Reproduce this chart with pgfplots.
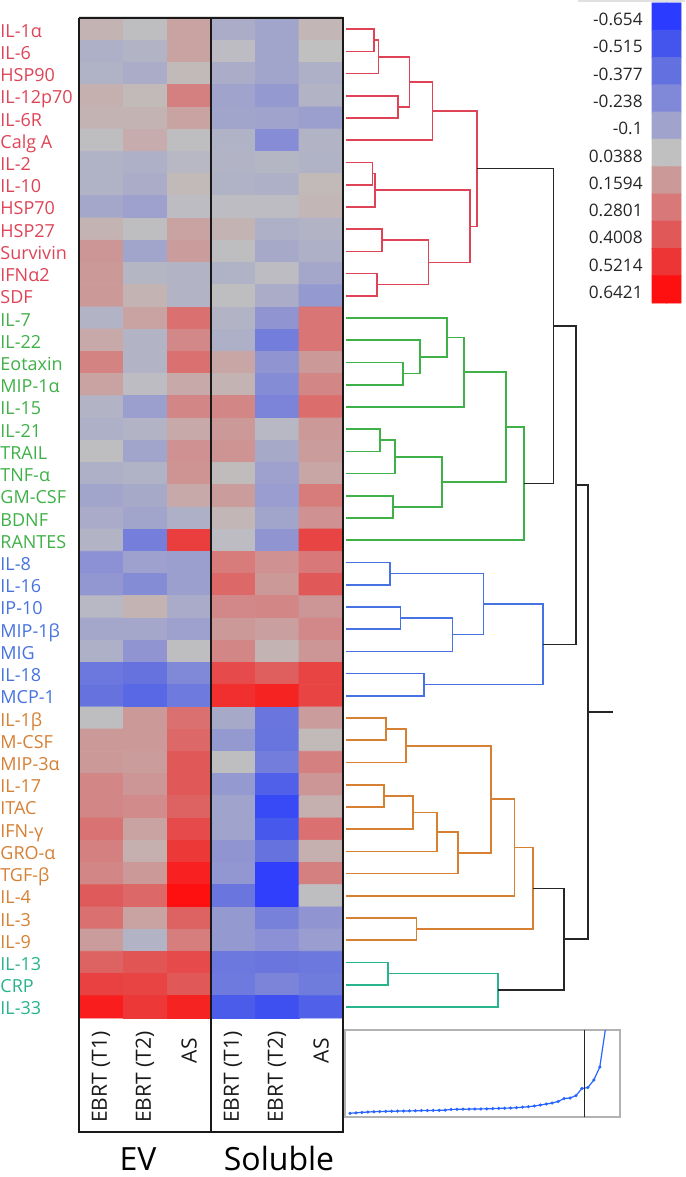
\documentclass[border=0pt]{standalone}
\usepackage{fontspec}
\setmainfont{Open Sans}
\usepackage{pgfplots}
\pgfplotsset{compat=1.18}
\definecolor{cR}{RGB}{222,68,86}
\definecolor{cG}{RGB}{64,176,72}
\definecolor{cB}{RGB}{70,115,225}
\definecolor{cO}{RGB}{214,128,52}
\definecolor{cT}{RGB}{40,180,140}
\definecolor{cInset}{RGB}{40,100,255}
\pgfplotsset{colormap={hm}{rgb255(0pt)=(43,59,255); rgb255(139pt)=(68,85,238); rgb255(277pt)=(98,112,224); rgb255(416pt)=(128,136,216); rgb255(554pt)=(160,163,204); rgb255(693pt)=(192,192,192); rgb255(813pt)=(204,153,153); rgb255(934pt)=(216,120,120); rgb255(1055pt)=(224,88,88); rgb255(1175pt)=(238,53,53); rgb255(1296pt)=(255,16,16)}}
\newcommand\rowfont{\fontsize{9}{10}\selectfont}
\newcommand\colfont{\fontsize{10.5}{12}\selectfont}
\newcommand\cbfont{\fontsize{8.6}{10}\selectfont}
\newcommand{\dm}[6]{\addplot[#1, line width=0.8pt] coordinates {(#2,#3) (#6,#3) (#6,#5) (#4,#5)};}
\newcommand{\rl}[3]{\node[anchor=base west, inner sep=0pt, text=#1, font=\rowfont] at (axis cs:0,#2) {#3};}
\newcommand{\cl}[2]{\node[anchor=base east, inner sep=0pt, text=black!85, font=\cbfont] at (axis cs:643,#1) {#2};}
\newcommand{\xl}[3]{\node[rotate=90, anchor=east, inner sep=0pt, text=black!90, font=\colfont] at (axis cs:#1,#2) {#3};}
\begin{document}
\begin{tikzpicture}
\useasboundingbox (0,0) rectangle (342.5pt,-588.5pt);
\begin{axis}[name=frame, at={(0,0)}, anchor=north west, scale only axis,
  width=342.5pt, height=588.5pt, xmin=0, xmax=685, ymin=0, ymax=1177,
  y dir=reverse, hide axis, clip=false, colormap name=hm,
  point meta min=-0.654, point meta max=0.6421]
% heatmap
\addplot[matrix plot*, mesh/cols=6, point meta=explicit] table[x expr={101+44*\thisrow{c}}, y expr={29.111+22.222*\thisrow{r}}, meta=v, row sep=\\] {
c r v \\
0 0 0.08 \\ 1 0 0.03 \\ 2 0 0.13 \\ 3 0 -0.05 \\ 4 0 -0.09 \\ 5 0 0.07 \\
0 1 -0.04 \\ 1 1 -0.02 \\ 2 1 0.13 \\ 3 1 0.02 \\ 4 1 -0.09 \\ 5 1 0.04 \\
0 2 -0.03 \\ 1 2 -0.05 \\ 2 2 0.06 \\ 3 2 -0.05 \\ 4 2 -0.09 \\ 5 2 -0.04 \\
0 3 0.09 \\ 1 3 0.06 \\ 2 3 0.25 \\ 3 3 -0.10 \\ 4 3 -0.15 \\ 5 3 -0.02 \\
0 4 0.08 \\ 1 4 0.08 \\ 2 4 0.13 \\ 3 4 -0.09 \\ 4 4 -0.10 \\ 5 4 -0.12 \\
0 5 0.03 \\ 1 5 0.10 \\ 2 5 0.03 \\ 3 5 -0.03 \\ 4 5 -0.21 \\ 5 5 -0.02 \\
0 6 -0.03 \\ 1 6 -0.04 \\ 2 6 0.00 \\ 3 6 -0.02 \\ 4 6 -0.01 \\ 5 6 -0.03 \\
0 7 -0.03 \\ 1 7 -0.05 \\ 2 7 0.06 \\ 3 7 -0.03 \\ 4 7 -0.04 \\ 5 7 0.06 \\
0 8 -0.08 \\ 1 8 -0.11 \\ 2 8 0.02 \\ 3 8 0.02 \\ 4 8 0.02 \\ 5 8 0.07 \\
0 9 0.08 \\ 1 9 0.03 \\ 2 9 0.13 \\ 3 9 0.08 \\ 4 9 -0.04 \\ 5 9 -0.02 \\
0 10 0.17 \\ 1 10 -0.09 \\ 2 10 0.15 \\ 3 10 0.03 \\ 4 10 -0.07 \\ 5 10 -0.04 \\
0 11 0.16 \\ 1 11 -0.01 \\ 2 11 -0.02 \\ 3 11 -0.03 \\ 4 11 0.02 \\ 5 11 -0.08 \\
0 12 0.16 \\ 1 12 0.08 \\ 2 12 -0.02 \\ 3 12 0.03 \\ 4 12 -0.05 \\ 5 12 -0.15 \\
0 13 -0.02 \\ 1 13 0.13 \\ 2 13 0.31 \\ 3 13 -0.02 \\ 4 13 -0.17 \\ 5 13 0.29 \\
0 14 0.11 \\ 1 14 -0.02 \\ 2 14 0.22 \\ 3 14 -0.04 \\ 4 14 -0.30 \\ 5 14 0.29 \\
0 15 0.24 \\ 1 15 -0.02 \\ 2 15 0.31 \\ 3 15 0.12 \\ 4 15 -0.17 \\ 5 15 0.16 \\
0 16 0.13 \\ 1 16 0.02 \\ 2 16 0.11 \\ 3 16 0.08 \\ 4 16 -0.22 \\ 5 16 0.23 \\
0 17 -0.02 \\ 1 17 -0.12 \\ 2 17 0.23 \\ 3 17 0.23 \\ 4 17 -0.26 \\ 5 17 0.32 \\
0 18 -0.04 \\ 1 18 -0.02 \\ 2 18 0.11 \\ 3 18 0.16 \\ 4 18 0.00 \\ 5 18 0.16 \\
0 19 0.03 \\ 1 19 -0.09 \\ 2 19 0.19 \\ 3 19 0.18 \\ 4 19 -0.07 \\ 5 19 0.15 \\
0 20 -0.04 \\ 1 20 -0.03 \\ 2 20 0.18 \\ 3 20 0.05 \\ 4 20 -0.11 \\ 5 20 0.12 \\
0 21 -0.09 \\ 1 21 -0.07 \\ 2 21 0.11 \\ 3 21 0.15 \\ 4 21 -0.13 \\ 5 21 0.27 \\
0 22 -0.06 \\ 1 22 -0.09 \\ 2 22 -0.04 \\ 3 22 0.07 \\ 4 22 -0.09 \\ 5 22 0.19 \\
0 23 -0.02 \\ 1 23 -0.29 \\ 2 23 0.49 \\ 3 23 0.02 \\ 4 23 -0.17 \\ 5 23 0.47 \\
0 24 -0.19 \\ 1 24 -0.11 \\ 2 24 -0.12 \\ 3 24 0.27 \\ 4 24 0.19 \\ 5 24 0.28 \\
0 25 -0.16 \\ 1 25 -0.22 \\ 2 25 -0.12 \\ 3 25 0.34 \\ 4 25 0.16 \\ 5 25 0.40 \\
0 26 0.00 \\ 1 26 0.08 \\ 2 26 -0.06 \\ 3 26 0.22 \\ 4 26 0.23 \\ 5 26 0.17 \\
0 27 -0.08 \\ 1 27 -0.08 \\ 2 27 -0.11 \\ 3 27 0.16 \\ 4 27 0.14 \\ 5 27 0.22 \\
0 28 -0.04 \\ 1 28 -0.17 \\ 2 28 0.03 \\ 3 28 0.23 \\ 4 28 0.08 \\ 5 28 0.17 \\
0 29 -0.33 \\ 1 29 -0.36 \\ 2 29 -0.24 \\ 3 29 0.45 \\ 4 29 0.38 \\ 5 29 0.47 \\
0 30 -0.36 \\ 1 30 -0.42 \\ 2 30 -0.32 \\ 3 30 0.54 \\ 4 30 0.58 \\ 5 30 0.47 \\
0 31 0.03 \\ 1 31 0.16 \\ 2 31 0.31 \\ 3 31 -0.07 \\ 4 31 -0.34 \\ 5 31 0.15 \\
0 32 0.16 \\ 1 32 0.16 \\ 2 32 0.34 \\ 3 32 -0.15 \\ 4 32 -0.35 \\ 5 32 0.06 \\
0 33 0.16 \\ 1 33 0.15 \\ 2 33 0.40 \\ 3 33 0.03 \\ 4 33 -0.30 \\ 5 33 0.25 \\
0 34 0.23 \\ 1 34 0.17 \\ 2 34 0.40 \\ 3 34 -0.15 \\ 4 34 -0.46 \\ 5 34 0.17 \\
0 35 0.23 \\ 1 35 0.21 \\ 2 35 0.36 \\ 3 35 -0.10 \\ 4 35 -0.58 \\ 5 35 0.09 \\
0 36 0.30 \\ 1 36 0.13 \\ 2 36 0.45 \\ 3 36 -0.10 \\ 4 36 -0.50 \\ 5 36 0.31 \\
0 37 0.25 \\ 1 37 0.09 \\ 2 37 0.51 \\ 3 37 -0.17 \\ 4 37 -0.36 \\ 5 37 0.09 \\
0 38 0.23 \\ 1 38 0.16 \\ 2 38 0.59 \\ 3 38 -0.16 \\ 4 38 -0.63 \\ 5 38 0.25 \\
0 39 0.39 \\ 1 39 0.34 \\ 2 39 0.65 \\ 3 39 -0.34 \\ 4 39 -0.63 \\ 5 39 0.03 \\
0 40 0.31 \\ 1 40 0.13 \\ 2 40 0.36 \\ 3 40 -0.15 \\ 4 40 -0.28 \\ 5 40 -0.17 \\
0 41 0.15 \\ 1 41 -0.02 \\ 2 41 0.26 \\ 3 41 -0.15 \\ 4 41 -0.19 \\ 5 41 -0.13 \\
0 42 0.36 \\ 1 42 0.41 \\ 2 42 0.45 \\ 3 42 -0.33 \\ 4 42 -0.34 \\ 5 42 -0.33 \\
0 43 0.48 \\ 1 43 0.47 \\ 2 43 0.40 \\ 3 43 -0.32 \\ 4 43 -0.26 \\ 5 43 -0.31 \\
0 44 0.60 \\ 1 44 0.51 \\ 2 44 0.58 \\ 3 44 -0.48 \\ 4 44 -0.54 \\ 5 44 -0.46 \\
};
% colour bar
\addplot[matrix plot*, mesh/cols=2, point meta=explicit] table[meta=v, row sep=\\] {
x y v \\
659.25 16.6 -0.654 \\ 673.75 16.6 -0.654 \\
659.25 43.9 -0.515 \\ 673.75 43.9 -0.515 \\
659.25 71.2 -0.377 \\ 673.75 71.2 -0.377 \\
659.25 98.5 -0.238 \\ 673.75 98.5 -0.238 \\
659.25 125.7 -0.1 \\ 673.75 125.7 -0.1 \\
659.25 153.0 0.0388 \\ 673.75 153.0 0.0388 \\
659.25 180.3 0.1594 \\ 673.75 180.3 0.1594 \\
659.25 207.5 0.2801 \\ 673.75 207.5 0.2801 \\
659.25 234.8 0.4008 \\ 673.75 234.8 0.4008 \\
659.25 262.1 0.5214 \\ 673.75 262.1 0.5214 \\
659.25 289.4 0.6421 \\ 673.75 289.4 0.6421 \\
};
\addplot[black!12, line width=1pt] coordinates {(578,1) (685,1)};
\addplot[black!12, line width=1pt] coordinates {(79,16.5) (343,16.5)};
% frames
\addplot[black!90, line width=0.6pt] coordinates {(79,18) (343,18) (343,1132) (79,1132) (79,18)};
\addplot[black!90, line width=0.6pt] coordinates {(211,18) (211,1132)};
% dendrogram red
\dm{cR}{346}{29.1}{346}{51.3}{373.7}
\dm{cR}{373.7}{40.2}{346}{73.5}{378.3}
\dm{cR}{346}{95.8}{346}{118.0}{397.7}
\dm{cR}{378.3}{56.85}{397.7}{106.9}{409.3}
\dm{cR}{409.3}{81.9}{346}{140.2}{432.3}
\dm{cR}{346}{162.4}{346}{184.7}{372.3}
\dm{cR}{372.3}{173.55}{346}{206.9}{375}
\dm{cR}{346}{229.1}{346}{251.3}{382}
\dm{cR}{346}{273.5}{346}{295.8}{376.7}
\dm{cR}{382}{240.2}{376.7}{284.65}{428.3}
\dm{cR}{375}{190.2}{428.3}{262.4}{470}
\dm{cR}{432.3}{111.0}{470}{226.3}{476.7}
% green
\dm{cG}{346}{362.4}{346}{384.7}{403}
\dm{cG}{346}{340.2}{403}{373.55}{420}
\dm{cG}{346}{318.0}{420}{356.9}{446.7}
\dm{cG}{446.7}{337.45}{346}{406.9}{464}
\dm{cG}{346}{429.1}{346}{451.3}{380}
\dm{cG}{380}{440.2}{346}{473.5}{395}
\dm{cG}{346}{495.8}{346}{518.0}{392.7}
\dm{cG}{395}{456.85}{392.7}{506.9}{441.7}
\dm{cG}{464}{372.2}{441.7}{481.9}{506}
\dm{cG}{506}{427.05}{346}{540.2}{523.7}
% blue
\dm{cB}{346}{562.4}{346}{584.7}{390}
\dm{cB}{346}{606.9}{346}{629.1}{400.3}
\dm{cB}{400.3}{618.0}{346}{651.3}{452.3}
\dm{cB}{390}{573.55}{452.3}{634.65}{483.3}
\dm{cB}{346}{673.5}{346}{695.8}{424}
\dm{cB}{483.3}{604.1}{424}{684.65}{542.7}
% orange
\dm{cO}{346}{718.0}{346}{740.2}{385.7}
\dm{cO}{385.7}{729.1}{346}{762.4}{406}
\dm{cO}{346}{784.7}{346}{806.9}{383.7}
\dm{cO}{383.7}{795.8}{346}{829.1}{412.7}
\dm{cO}{412.7}{812.45}{346}{851.3}{436.7}
\dm{cO}{436.7}{831.9}{346}{873.5}{457.7}
\dm{cO}{406}{745.75}{457.7}{852.7}{490.7}
\dm{cO}{490.7}{799.2}{346}{895.8}{514.3}
\dm{cO}{346}{918.0}{346}{940.2}{416.3}
\dm{cO}{514.3}{847.5}{416.3}{929.1}{532.7}
% teal
\dm{cT}{346}{962.4}{346}{984.7}{388}
\dm{cT}{388}{973.55}{346}{1006.9}{498}
% black
\dm{black!85}{476.7}{168.65}{523.7}{483.6}{553.3}
\dm{black!85}{553.3}{326.1}{542.7}{644.4}{575.7}
\dm{black!85}{532.7}{888.3}{498}{990.2}{564}
\dm{black!85}{575.7}{485.25}{564}{939.25}{587.7}
\addplot[black!85, line width=0.8pt] coordinates {(587.7,712.25) (613.3,712.25)};
% row labels
\rl{cR}{37.1}{IL-1α}
\rl{cR}{59.3}{IL-6}
\rl{cR}{81.5}{HSP90}
\rl{cR}{103.8}{IL-12p70}
\rl{cR}{126.0}{IL-6R}
\rl{cR}{148.2}{Calg A}
\rl{cR}{170.4}{IL-2}
\rl{cR}{192.7}{IL-10}
\rl{cR}{214.9}{HSP70}
\rl{cR}{237.1}{HSP27}
\rl{cR}{259.3}{Survivin}
\rl{cR}{281.5}{IFNα2}
\rl{cR}{303.8}{SDF}
\rl{cG}{326.0}{IL-7}
\rl{cG}{348.2}{IL-22}
\rl{cG}{370.4}{Eotaxin}
\rl{cG}{392.7}{MIP-1α}
\rl{cG}{414.9}{IL-15}
\rl{cG}{437.1}{IL-21}
\rl{cG}{459.3}{TRAIL}
\rl{cG}{481.5}{TNF-α}
\rl{cG}{503.8}{GM-CSF}
\rl{cG}{526.0}{BDNF}
\rl{cG}{548.2}{RANTES}
\rl{cB}{570.4}{IL-8}
\rl{cB}{592.7}{IL-16}
\rl{cB}{614.9}{IP-10}
\rl{cB}{637.1}{MIP-1β}
\rl{cB}{659.3}{MIG}
\rl{cB}{681.5}{IL-18}
\rl{cB}{703.8}{MCP-1}
\rl{cO}{726.0}{IL-1β}
\rl{cO}{748.2}{M-CSF}
\rl{cO}{770.4}{MIP-3α}
\rl{cO}{792.7}{IL-17}
\rl{cO}{814.9}{ITAC}
\rl{cO}{837.1}{IFN-γ}
\rl{cO}{859.3}{GRO-α}
\rl{cO}{881.5}{TGF-β}
\rl{cO}{903.8}{IL-4}
\rl{cO}{926.0}{IL-3}
\rl{cO}{948.2}{IL-9}
\rl{cT}{970.4}{IL-13}
\rl{cT}{992.7}{CRP}
\rl{cT}{1014.9}{IL-33}
% colour bar labels
\cl{25.6}{-0.654}
\cl{52.9}{-0.515}
\cl{80.2}{-0.377}
\cl{107.5}{-0.238}
\cl{134.7}{-0.1}
\cl{162.0}{0.0388}
\cl{189.3}{0.1594}
\cl{216.5}{0.2801}
\cl{243.8}{0.4008}
\cl{271.1}{0.5214}
\cl{298.4}{0.6421}
% column labels
\xl{101}{1031}{EBRT (T1)}
\xl{145}{1031}{EBRT (T2)}
\xl{189}{1038}{AS}
\xl{233}{1031}{EBRT (T1)}
\xl{277}{1031}{EBRT (T2)}
\xl{321}{1038}{AS}
\node[anchor=base, inner sep=0pt, font=\fontsize{16}{18}\selectfont] at (axis cs:138,1170) {EV};
\node[anchor=base, inner sep=0pt, font=\fontsize{16}{18}\selectfont] at (axis cs:279,1170) {Soluble};
\coordinate (insetsw) at (axis cs:345,1117);
\end{axis}
\begin{axis}[at={(insetsw)}, anchor=south west, scale only axis,
  width=137.5pt, height=43.5pt, xmin=0.16, xmax=46.4, ymin=0, ymax=87,
  axis line style={draw=black!30, line width=0.6pt}, xtick=\empty, ytick=\empty, clip=true]
\addplot[cInset, line width=0.6pt, mark=*, mark size=0.45pt] coordinates {
(1,3.7) (2,4.2) (3,4.6) (4,5.0) (5,5.3) (6,5.5) (7,5.6) (8,5.8) (9,5.9) (10,6.0)
(11,6.1) (12,6.2) (13,6.4) (14,6.5) (15,6.6) (16,6.7) (17,6.9) (18,7.6) (19,7.7) (20,7.8)
(21,7.9) (22,8.0) (23,8.1) (24,8.2) (25,8.4) (26,8.6) (27,8.8) (28,9.0) (29,9.3) (30,9.8)
(31,10.3) (32,11.0) (33,12.0) (34,13.0) (35,14.0) (36,15.5) (37,18.5) (38,19.0) (39,21.5) (40,28.5)
(41,29.5) (42,37.0) (43,50.0) (44,90.0)};
\addplot[black!85, line width=0.8pt] coordinates {(40.4,0) (40.4,87)};
\end{axis}
\end{tikzpicture}
\end{document}
